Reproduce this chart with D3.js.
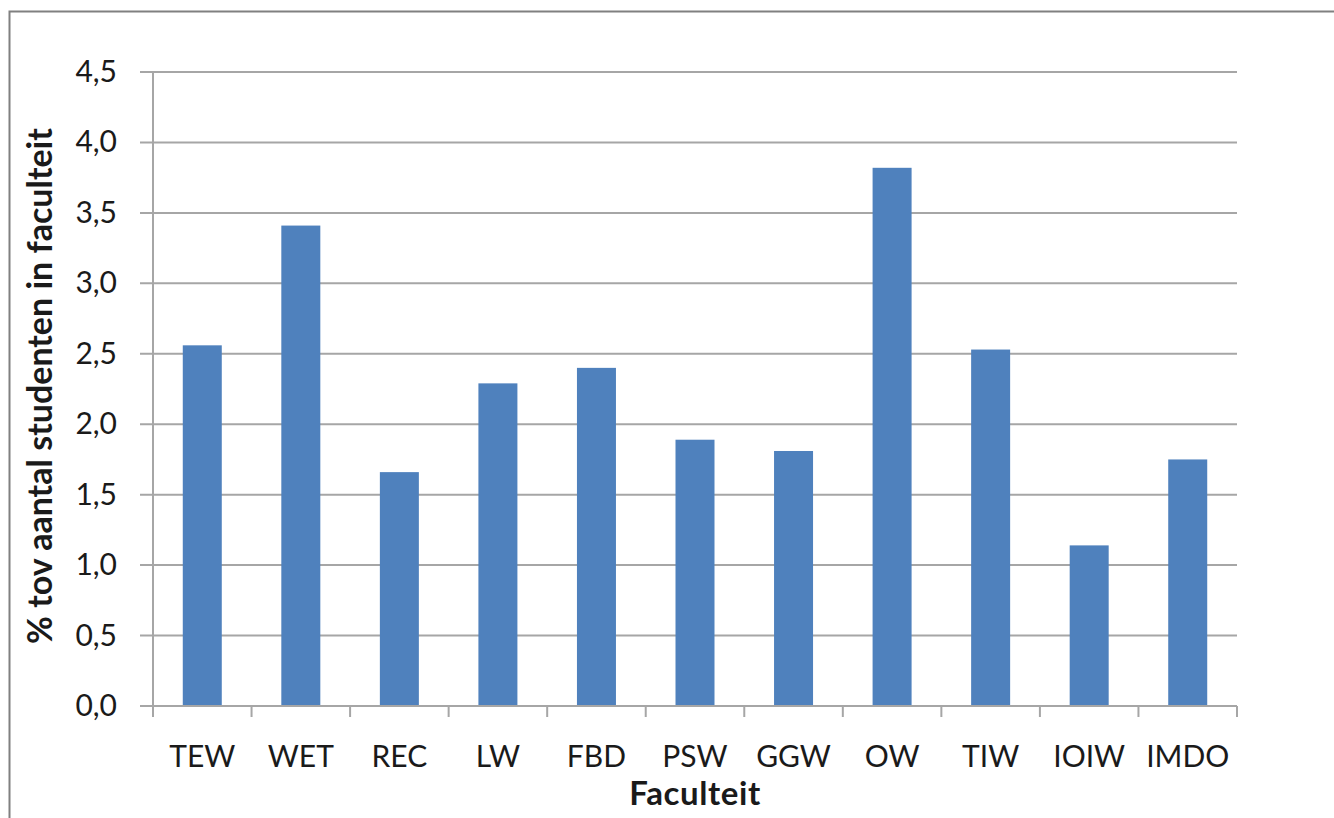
<!DOCTYPE html>
<html><head><meta charset="utf-8">
<script src="https://cdn.jsdelivr.net/npm/d3@7"></script>
<style>body{margin:0;background:#fff}svg{display:block}</style>
</head><body><svg id="c" width="1334" height="818"></svg>
<script>
const categories = ["TEW","WET","REC","LW","FBD","PSW","GGW","OW","TIW","IOIW","IMDO"];
const values = [2.56,3.41,1.66,2.29,2.40,1.89,1.81,3.82,2.53,1.14,1.75];
const yTicks = [0,0.5,1,1.5,2,2.5,3,3.5,4,4.5];
const yTitle = "% tov aantal studenten in faculteit";
const xTitle = "Faculteit";

const svg = d3.select("#c");
const font = "Lato, 'Open Sans', sans-serif";
svg.append("path").attr("d","M9.5,818 V11.5 H1334").attr("fill","none").attr("stroke","#808080").attr("stroke-width",2);

const L=153, R=1237, T=72, B=706;
const xb = d3.scaleBand().domain(categories).range([L,R]);
const y = d3.scaleLinear().domain([0,4.5]).range([B,T]);

svg.append("g").selectAll("line").data(yTicks).join("line")
  .attr("x1",L-13).attr("x2",R).attr("y1",d=>y(d)).attr("y2",d=>y(d))
  .attr("stroke","#a6a6a6").attr("stroke-width",2);

svg.append("g").selectAll("rect").data(values).join("rect")
  .attr("x",(d,i)=>xb(categories[i])+xb.bandwidth()/2-19.5).attr("width",39)
  .attr("y",d=>y(d)).attr("height",d=>B-y(d))
  .attr("fill","#4f81bd");

svg.append("line").attr("x1",L).attr("x2",L).attr("y1",T).attr("y2",B+1).attr("stroke","#a6a6a6").attr("stroke-width",2);
svg.append("line").attr("x1",L).attr("x2",R).attr("y1",B).attr("y2",B).attr("stroke","#a6a6a6").attr("stroke-width",2);
const bounds = categories.map(c=>xb(c)).concat([R]);
svg.append("g").selectAll("line").data(bounds).join("line")
  .attr("x1",d=>d).attr("x2",d=>d).attr("y1",B).attr("y2",B+11)
  .attr("stroke","#a6a6a6").attr("stroke-width",2);

svg.append("g").selectAll("text").data(yTicks).join("text")
  .attr("x",117).attr("y",d=>y(d)+10).attr("text-anchor","end")
  .attr("font-family",font).attr("font-size",30).attr("fill","#1a1a1a")
  .text(d=>d3.format(".1f")(d).replace(".",","));

svg.append("g").selectAll("text").data(categories).join("text")
  .attr("x",d=>xb(d)+xb.bandwidth()/2).attr("y",767).attr("text-anchor","middle")
  .attr("font-family",font).attr("font-size",30).attr("fill","#1a1a1a")
  .text(d=>d);

svg.append("text").attr("transform","translate(52,386) rotate(-90)").attr("text-anchor","middle")
  .attr("font-family",font).attr("font-weight","bold").attr("font-size",34).attr("fill","#1a1a1a").text(yTitle);
svg.append("text").attr("x",695).attr("y",805).attr("text-anchor","middle")
  .attr("font-family",font).attr("font-weight","bold").attr("font-size",33).attr("letter-spacing",0.6).attr("fill","#1a1a1a").text(xTitle);
</script></body></html>
